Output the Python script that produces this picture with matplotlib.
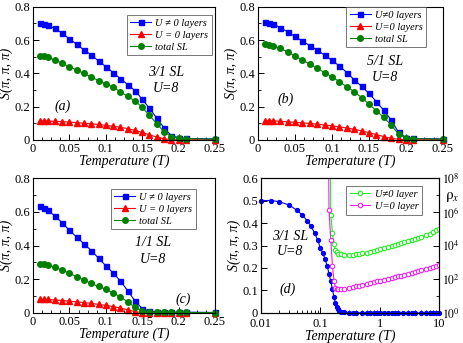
import matplotlib
matplotlib.use("Agg")
import matplotlib.pyplot as plt
from matplotlib.ticker import MultipleLocator, LogLocator, FixedLocator, NullFormatter

plt.rcParams['font.family'] = ['Liberation Serif', 'DejaVu Serif']
plt.rcParams['mathtext.fontset'] = 'stix'
plt.rcParams['xtick.direction'] = 'in'
plt.rcParams['ytick.direction'] = 'in'

# ---------------- data ----------------
T = [0.01, 0.015, 0.02, 0.03, 0.04, 0.05, 0.06, 0.07, 0.08, 0.09, 0.10,
     0.11, 0.12, 0.13, 0.14, 0.15, 0.16, 0.17, 0.18, 0.19, 0.20, 0.21, 0.25]

blue_a = [0.70, 0.697, 0.69, 0.67, 0.642, 0.607, 0.575, 0.541, 0.511, 0.475, 0.441,
          0.405, 0.369, 0.333, 0.297, 0.245, 0.19, 0.132, 0.072, 0.026, 0.013, 0.009, 0.006]
red_a = [0.115, 0.115, 0.114, 0.112, 0.11, 0.107, 0.104, 0.10, 0.097, 0.093, 0.088,
         0.082, 0.076, 0.068, 0.058, 0.045, 0.031, 0.017, 0.007, 0.002, 0.001, 0.001, 0.0]
green_a = [0.505, 0.502, 0.497, 0.48, 0.46, 0.44, 0.42, 0.40, 0.378, 0.357, 0.338,
           0.316, 0.29, 0.262, 0.234, 0.197, 0.147, 0.098, 0.05, 0.02, 0.011, 0.008, 0.005]

blue_b = [0.71, 0.705, 0.698, 0.675, 0.65, 0.622, 0.595, 0.567, 0.54, 0.51, 0.478,
          0.445, 0.405, 0.362, 0.322, 0.28, 0.23, 0.178, 0.12, 0.045, 0.013, 0.009, 0.006]
red_b = [0.115, 0.115, 0.115, 0.112, 0.109, 0.106, 0.103, 0.099, 0.095, 0.09, 0.085,
         0.079, 0.072, 0.064, 0.055, 0.044, 0.032, 0.02, 0.01, 0.004, 0.002, 0.001, 0.0]
green_b = [0.575, 0.572, 0.567, 0.55, 0.53, 0.505, 0.48, 0.455, 0.43, 0.405, 0.38,
           0.35, 0.32, 0.29, 0.255, 0.215, 0.175, 0.135, 0.09, 0.035, 0.012, 0.008, 0.005]

blue_c = [0.635, 0.625, 0.61, 0.575, 0.535, 0.49, 0.45, 0.41, 0.37, 0.325, 0.28,
          0.238, 0.19, 0.133, 0.072, 0.026, 0.01, 0.008, 0.006, 0.005, 0.005, 0.005, 0.003]
red_c = [0.08, 0.08, 0.08, 0.077, 0.074, 0.07, 0.066, 0.062, 0.057, 0.051, 0.045,
         0.038, 0.029, 0.019, 0.008, 0.002, 0.0, 0.0, 0.0, 0.0, 0.0, 0.0, 0.0]
green_c = [0.293, 0.29, 0.285, 0.27, 0.255, 0.235, 0.215, 0.195, 0.175, 0.157, 0.14,
           0.12, 0.095, 0.067, 0.034, 0.012, 0.005, 0.004, 0.003, 0.003, 0.003, 0.003, 0.002]

Td = [0.01, 0.015, 0.02, 0.03, 0.04, 0.05, 0.06, 0.07, 0.08, 0.09, 0.10, 0.11, 0.12,
      0.13, 0.14, 0.15, 0.16, 0.17, 0.18, 0.19, 0.20, 0.21, 0.22, 0.25, 0.3, 0.35, 0.4,
      0.5, 0.6, 0.7, 0.8, 0.9, 1.0, 1.2, 1.4, 1.6, 1.8, 2.0, 2.5, 3.0, 3.5, 4.0, 5.0,
      6.0, 7.0, 8.0, 9.0, 10.0]
Sd = [0.50, 0.50, 0.495, 0.48, 0.457, 0.435, 0.41, 0.385, 0.355, 0.325, 0.29, 0.265, 0.24,
      0.21, 0.175, 0.14, 0.105, 0.07, 0.045, 0.027, 0.016, 0.009, 0.005, 0.003, 0.002, 0.001, 0.001,
      0.001, 0.0, 0.0, 0.0, 0.0, 0.0, 0.0, 0.0, 0.0, 0.0, 0.0, 0.0, 0.0, 0.0, 0.0, 0.0,
      0.0, 0.0, 0.0, 0.0, 0.0]

Tr = [0.14, 0.15, 0.16, 0.17, 0.18, 0.19, 0.20, 0.22, 0.25, 0.3, 0.35, 0.4, 0.45, 0.5,
      0.6, 0.7, 0.8, 0.9, 1.0, 1.2, 1.4, 1.6, 1.8, 2.0, 2.3, 2.6, 3.0, 3.5, 4.0, 4.5,
      5.0, 6.0, 7.0, 8.0, 9.0, 10.0]
# log10 of resistivity, U != 0 layer
lg_rho_U = [20.0, 5.8, 4.75, 4.1, 3.75, 3.6, 3.52, 3.47, 3.45, 3.45, 3.46, 3.48, 3.5, 3.53,
            3.58, 3.63, 3.68, 3.73, 3.77, 3.84, 3.9, 3.96, 4.01, 4.06, 4.12, 4.18, 4.24, 4.31,
            4.38, 4.45, 4.5, 4.6, 4.7, 4.8, 4.9, 5.0]
Tr0 = [0.13, 0.14, 0.15, 0.16, 0.17, 0.18, 0.19, 0.20, 0.22, 0.25, 0.3, 0.35, 0.4, 0.45,
       0.5, 0.6, 0.7, 0.8, 0.9, 1.0, 1.2, 1.4, 1.6, 1.8, 2.0, 2.3, 2.6, 3.0, 3.5, 4.0,
       4.5, 5.0, 6.0, 7.0, 8.0, 9.0, 10.0]
# log10 of resistivity, U = 0 layer
lg_rho_0 = [20.0, 6.1, 4.3, 2.8, 1.9, 1.5, 1.42, 1.4, 1.4, 1.42, 1.47, 1.52, 1.57, 1.61,
            1.65, 1.72, 1.78, 1.83, 1.87, 1.91, 1.98, 2.04, 2.09, 2.13, 2.17, 2.22, 2.27,
            2.32, 2.38, 2.43, 2.48, 2.52, 2.58, 2.64, 2.7, 2.76, 2.82]

BLUE = '#0000ff'
RED = '#ff0000'
GREEN = '#008000'

TICK_FS = 9
LAB_FS = 10
TXT_FS = 10

fig = plt.figure(figsize=(4.63, 3.43), dpi=100)

def style_lin(ax):
    ax.set_xlim(0, 0.25)
    ax.set_ylim(0, 0.8)
    ax.xaxis.set_major_locator(FixedLocator([0, 0.05, 0.1, 0.15, 0.2, 0.25]))
    ax.set_xticklabels(['0', '0.05', '0.1', '0.15', '0.2', '0.25'])
    ax.xaxis.set_minor_locator(MultipleLocator(0.0125))
    ax.yaxis.set_major_locator(FixedLocator([0, 0.2, 0.4, 0.6, 0.8]))
    ax.set_yticklabels(['0', '0.2', '0.4', '0.6', '0.8'])
    ax.yaxis.set_minor_locator(MultipleLocator(0.1))
    ax.tick_params(which='major', length=4, width=0.7, labelsize=TICK_FS, pad=2)
    ax.tick_params(which='minor', length=2, width=0.6)
    for s in ax.spines.values():
        s.set_linewidth(0.8)
    ax.set_xlabel('Temperature (T)', fontsize=LAB_FS, style='italic', labelpad=0)
    ax.set_ylabel('S(π, π, π)', fontsize=LAB_FS, style='italic', labelpad=1)

def panel(rect, blue, red, green, labels, leg_anchor, sl, sl_pos, tag, tag_pos):
    ax = fig.add_axes(rect)
    ax.plot(T, blue, '-s', color=BLUE, ms=3.6, lw=0.8, label=labels[0], clip_on=False)
    ax.plot(T, red, '-^', color=RED, ms=3.8, lw=0.8, label=labels[1], clip_on=False)
    ax.plot(T, green, '-o', color=GREEN, ms=4.0, lw=0.8, label=labels[2], clip_on=False)
    style_lin(ax)
    leg = ax.legend(loc='upper right', bbox_to_anchor=leg_anchor, fancybox=False,
                    prop={'size': 7.5, 'style': 'italic'}, handlelength=2.0,
                    borderpad=0.35, labelspacing=0.25, handletextpad=0.4,
                    borderaxespad=0)
    leg.get_frame().set_edgecolor('#555555')
    leg.get_frame().set_linewidth(0.7)
    ax.text(sl_pos[0], sl_pos[1], sl, transform=ax.transAxes, fontsize=TXT_FS,
            style='italic', ha='center', va='center')
    ax.text(sl_pos[0], sl_pos[1] - 0.12, 'U=8', transform=ax.transAxes, fontsize=TXT_FS,
            style='italic', ha='center', va='center')
    ax.text(tag_pos[0], tag_pos[1], tag, transform=ax.transAxes, fontsize=TXT_FS,
            style='italic', ha='center', va='center')
    return ax

panel([0.0713, 0.592, 0.393, 0.388], blue_a, red_a, green_a,
      ['U ≠ 0 layers', 'U = 0 layers', 'total SL'], (0.984, 0.94),
      '3/1 SL', (0.73, 0.51), '(a)', (0.165, 0.25))
panel([0.5572, 0.592, 0.3996, 0.388], blue_b, red_b, green_b,
      ['U≠0 layers', 'U=0 layers', 'total SL'], (0.91, 1.0),
      '5/1 SL', (0.686, 0.586), '(b)', (0.151, 0.308))
panel([0.0713, 0.0875, 0.393, 0.3935], blue_c, red_c, green_c,
      ['U ≠ 0 layers', 'U = 0 layers', 'total SL'], (0.896, 0.92),
      '1/1 SL', (0.659, 0.519), '(c)', (0.824, 0.104))

# ---------------- panel (d) ----------------
axd = fig.add_axes([0.5637, 0.0875, 0.3845, 0.3935])
axd.set_xscale('log')
axd.plot(Td, Sd, '-o', color=BLUE, ms=2.8, lw=0.8, clip_on=False, zorder=3)
axd.set_xlim(0.01, 10)
axd.set_ylim(0, 0.6)
axd.xaxis.set_major_locator(FixedLocator([0.01, 0.1, 1, 10]))
axd.set_xticklabels(['0.01', '0.1', '1', '10'])
axd.xaxis.set_minor_locator(LogLocator(base=10, subs=[2, 3, 4, 5, 6, 7, 8, 9]))
axd.xaxis.set_minor_formatter(NullFormatter())
axd.yaxis.set_major_locator(FixedLocator([0, 0.1, 0.2, 0.3, 0.4, 0.5, 0.6]))
axd.set_yticklabels(['0', '0.1', '0.2', '0.3', '0.4', '0.5', '0.6'])
axd.tick_params(which='major', length=4, width=0.7, labelsize=TICK_FS, pad=2)
axd.tick_params(axis='x', which='major', pad=3.5)
axd.tick_params(which='minor', length=2, width=0.6)
for s in axd.spines.values():
    s.set_linewidth(0.8)
axd.set_xlabel('Temperature (T)', fontsize=LAB_FS, style='italic', labelpad=0)
axd.set_ylabel('S(π, π, π)', fontsize=LAB_FS, style='italic', labelpad=1)
axd.text(0.163, 0.57, '3/1 SL', transform=axd.transAxes, fontsize=TXT_FS,
         style='italic', ha='center', va='center')
axd.text(0.163, 0.452, 'U=8', transform=axd.transAxes, fontsize=TXT_FS,
         style='italic', ha='center', va='center')
axd.text(0.152, 0.178, '(d)', transform=axd.transAxes, fontsize=TXT_FS,
         style='italic', ha='center', va='center')

axr = axd.twinx()
axr.set_yscale('log')
rho_U = [10 ** v for v in lg_rho_U]
rho_0 = [10 ** v for v in lg_rho_0]
axr.plot(Tr, rho_U, '-o', color='#22ee22', mfc='white', ms=3.2, mew=0.8, lw=0.8,
         label='U≠0 layer')
axr.plot(Tr0, rho_0, '-o', color='#ee22ee', mfc='white', ms=3.2, mew=0.8, lw=0.8,
         label='U=0 layer')
axr.set_ylim(1, 1e8)
axr.yaxis.set_major_locator(FixedLocator([1, 1e2, 1e4, 1e6, 1e8]))
axr.set_yticklabels([r'$10^{0}$', r'$10^{2}$', r'$10^{4}$', r'$10^{6}$', r'$10^{8}$'])
axr.yaxis.set_minor_locator(FixedLocator([10, 1e3, 1e5, 1e7]))
axr.yaxis.set_minor_formatter(NullFormatter())
axr.tick_params(which='major', length=4, width=0.7, labelsize=8.5, pad=2)
axr.tick_params(which='minor', length=2, width=0.6)
axr.text(1.075, 0.86, r'$\mathrm{\rho}_x$', transform=axr.transAxes, fontsize=11,
         ha='center', va='center')
legd = axr.legend(loc='upper right', bbox_to_anchor=(0.904, 0.94), fancybox=False,
                  prop={'size': 7.5, 'style': 'italic'}, handlelength=2.0,
                  borderpad=0.35, labelspacing=0.25, handletextpad=0.4,
                  borderaxespad=0)
legd.get_frame().set_edgecolor('#555555')
legd.get_frame().set_linewidth(0.7)

fig.savefig('out.png', dpi=100)
